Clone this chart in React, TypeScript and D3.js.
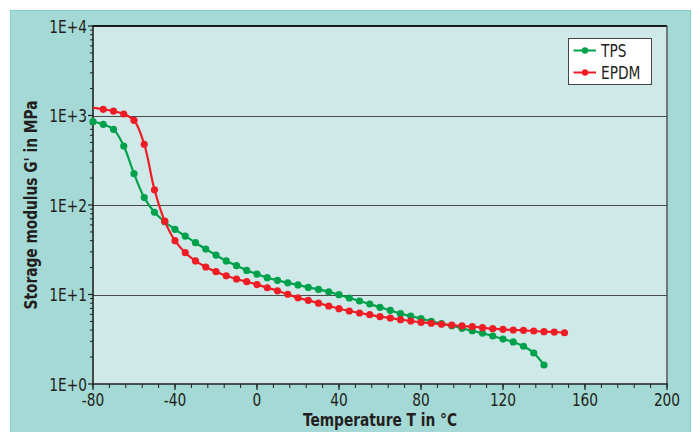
import { useRef, useEffect } from 'react';
import * as d3 from 'd3';

const temps = d3.range(-80, 155, 5);

// storage modulus G' in MPa
const tpsValues = [
  853, 797, 701, 456, 224, 121, 83, 65, 53.5, 45, 37.9, 32.2, 27.6, 23.7, 21,
  18.6, 16.9, 15.4, 14.4, 13.5, 12.8, 12.0, 11.4, 10.7, 9.95, 9.14, 8.46, 7.83,
  7.19, 6.66, 6.1, 5.75, 5.37, 5.01, 4.72, 4.48, 4.19, 3.94, 3.69, 3.44, 3.18,
  2.95, 2.64, 2.22, 1.63,
];
const epdmValues = [
  1222, 1173, 1122, 1039, 884, 477, 148, 66, 39.9, 29.3, 23.7, 20.3, 18, 16.2,
  14.9, 13.9, 12.9, 11.9, 11.0, 10.05, 9.2, 8.6, 8.0, 7.44, 6.94, 6.54, 6.21,
  5.95, 5.65, 5.46, 5.23, 5.06, 4.89, 4.77, 4.65, 4.56, 4.45, 4.37, 4.26, 4.15,
  4.08, 4.01, 3.98, 3.91, 3.84, 3.81, 3.74,
];

const xTicks = [-80, -40, 0, 40, 80, 120, 160, 200];
const yTicks = [1, 10, 100, 1000, 10000];
const yTickLabels = ['1E+0', '1E+1', '1E+2', '1E+3', '1E+4'];

const series = [
  { name: 'TPS', color: '#00a14b', values: tpsValues, firstMarker: true },
  { name: 'EPDM', color: '#ee1c25', values: epdmValues, firstMarker: false },
];

const W = 693;
const H = 432;
const FONT = "'DejaVu Sans Condensed', 'Liberation Sans Narrow', sans-serif";
const SQUEEZE = 0.85; // the original face is narrower than anything installed

export default function App() {
  const svgRef = useRef(null);

  useEffect(() => {
    const svg = d3.select(svgRef.current);
    svg.selectAll('*').remove();

    const left = 93, right = 667, top = 26, bottom = 384;
    const x = d3.scaleLinear().domain([-80, 200]).range([left, right]);
    const y = d3.scaleLog().domain([1, 10000]).range([bottom, top]);

    const label = (g, tx, ty, text, anchor, size = 18, weight = 'normal') =>
      g.append('text')
        .attr('transform', `translate(${tx},${ty}) scale(${SQUEEZE},1)`)
        .attr('text-anchor', anchor)
        .attr('font-family', FONT)
        .attr('font-size', size)
        .attr('font-weight', weight)
        .attr('fill', '#231f20')
        .text(text);

    // outer panel
    svg.append('rect').attr('width', W).attr('height', H).attr('fill', '#fff');
    svg
      .append('rect')
      .attr('x', 10.5)
      .attr('y', 10.5)
      .attr('width', 680)
      .attr('height', H)
      .attr('fill', '#a4d9d5')
      .attr('stroke', '#82cec8')
      .attr('stroke-width', 1);

    // plot area
    svg
      .append('rect')
      .attr('x', left)
      .attr('y', top)
      .attr('width', right - left)
      .attr('height', bottom - top)
      .attr('fill', '#cfe9e8');

    // grid lines
    svg
      .append('g')
      .selectAll('line')
      .data([10, 100, 1000])
      .join('line')
      .attr('x1', left)
      .attr('x2', right)
      .attr('y1', d => Math.round(y(d)) + 0.5)
      .attr('y2', d => Math.round(y(d)) + 0.5)
      .attr('stroke', '#4a4a4a')
      .attr('stroke-width', 1.2);

    // frame
    svg.append('line').attr('x1', left).attr('x2', right).attr('y1', top).attr('y2', top)
      .attr('stroke', '#1a1a1a').attr('stroke-width', 2.2);
    svg.append('line').attr('x1', right).attr('x2', right).attr('y1', top).attr('y2', bottom)
      .attr('stroke', '#555').attr('stroke-width', 1.5);
    svg.append('line').attr('x1', left).attr('x2', left).attr('y1', top - 1).attr('y2', bottom + 1)
      .attr('stroke', '#222').attr('stroke-width', 1.6);
    svg.append('line').attr('x1', left).attr('x2', right + 1).attr('y1', bottom).attr('y2', bottom)
      .attr('stroke', '#222').attr('stroke-width', 1.6);

    // y ticks
    const yMinor = [];
    for (let k = 0; k < 4; k++) {
      for (let m = 2; m <= 9; m++) yMinor.push(m * Math.pow(10, k));
    }
    svg.append('g').selectAll('line').data(yMinor).join('line')
      .attr('x1', left - 3).attr('x2', left)
      .attr('y1', d => y(d)).attr('y2', d => y(d))
      .attr('stroke', '#222').attr('stroke-width', 1);
    svg.append('g').selectAll('line').data(yTicks).join('line')
      .attr('x1', left - 5).attr('x2', left)
      .attr('y1', d => y(d)).attr('y2', d => y(d))
      .attr('stroke', '#222').attr('stroke-width', 1.2);
    const yl = svg.append('g');
    yTicks.forEach((d, i) => label(yl, left - 6, y(d) + 6.5, yTickLabels[i], 'end'));

    // x ticks
    const xMinor = d3.range(-80, 201, 8);
    svg.append('g').selectAll('line').data(xMinor).join('line')
      .attr('x1', d => x(d)).attr('x2', d => x(d))
      .attr('y1', bottom).attr('y2', bottom + 4)
      .attr('stroke', '#222').attr('stroke-width', 1);
    svg.append('g').selectAll('line').data(xTicks).join('line')
      .attr('x1', d => x(d)).attr('x2', d => x(d))
      .attr('y1', bottom).attr('y2', bottom + 6)
      .attr('stroke', '#222').attr('stroke-width', 1.2);
    const xl = svg.append('g');
    xTicks.forEach(d => label(xl, x(d), bottom + 22, String(d), 'middle'));

    // axis titles
    label(svg, 380, 426, 'Temperature T in °C', 'middle', 18, 'bold');
    svg.append('text')
      .attr('transform', `translate(37,205) rotate(-90) scale(${SQUEEZE},1)`)
      .attr('text-anchor', 'middle')
      .attr('font-family', FONT)
      .attr('font-weight', 'bold')
      .attr('font-size', 18)
      .attr('fill', '#231f20')
      .text("Storage modulus G' in MPa");

    // series
    const line = d3
      .line()
      .x(d => x(d[0]))
      .y(d => y(d[1]))
      .curve(d3.curveCatmullRom.alpha(0.5));

    series.forEach(s => {
      const pts = s.values.map((v, i) => [temps[i], v]);
      svg.append('path')
        .attr('d', line(pts))
        .attr('fill', 'none')
        .attr('stroke', s.color)
        .attr('stroke-width', 2.2);
      svg.append('g').selectAll('circle')
        .data(s.firstMarker ? pts : pts.slice(1))
        .join('circle')
        .attr('cx', d => x(d[0]))
        .attr('cy', d => y(d[1]))
        .attr('r', 3.6)
        .attr('fill', s.color);
    });

    // legend
    const lg = svg.append('g').attr('transform', 'translate(568.5,38.5)');
    lg.append('rect')
      .attr('width', 83)
      .attr('height', 46)
      .attr('fill', '#fff')
      .attr('stroke', '#444')
      .attr('stroke-width', 1);
    series.forEach((s, i) => {
      const ly = 12 + i * 22;
      lg.append('line')
        .attr('x1', 5).attr('x2', 27.5)
        .attr('y1', ly).attr('y2', ly)
        .attr('stroke', s.color).attr('stroke-width', 2);
      lg.append('circle').attr('cx', 16.5).attr('cy', ly).attr('r', 3.2).attr('fill', s.color);
      label(lg, 32.5, ly + 6.5, s.name, 'start');
    });
  }, []);

  return (
    <div style={{ position: 'absolute', left: 0, top: 0 }}>
      <svg ref={svgRef} width={W} height={H} style={{ display: 'block' }} />
    </div>
  );
}
